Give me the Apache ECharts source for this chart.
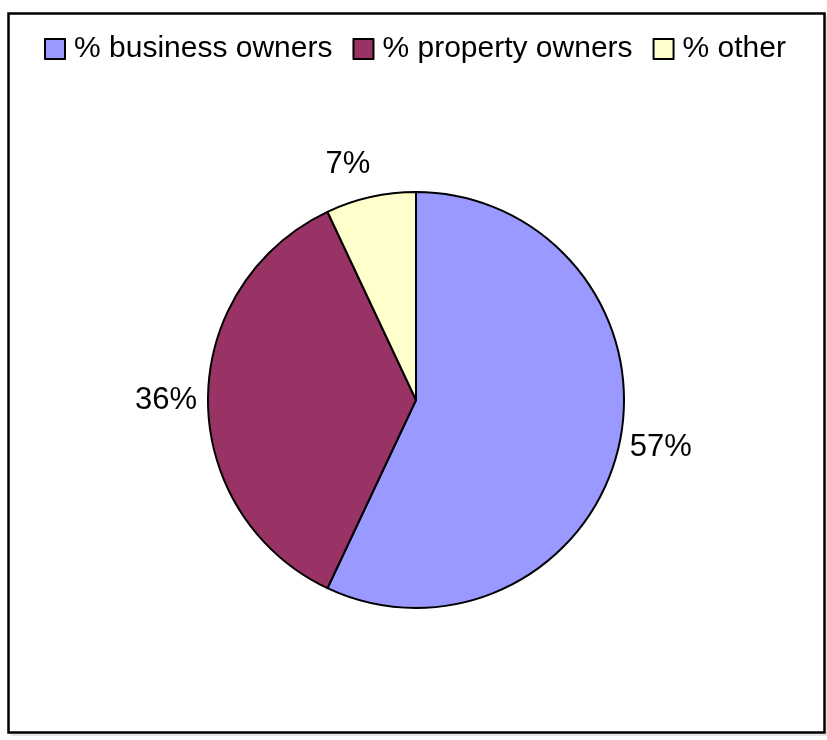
<!DOCTYPE html>
<html>
<head>
<meta charset="utf-8">
<style>
  html, body { margin: 0; padding: 0; background: #fff; }
  #chart { width: 827px; height: 740px; }
</style>
<script src="https://cdn.jsdelivr.net/npm/echarts@6/dist/echarts.min.js"></script>
</head>
<body>
<div id="chart"></div>
<script>
// Share of respondents by ownership group
const categories = ['% business owners', '% property owners', '% other'];
const shares = [57, 36, 7];
const colors = ['#9999FF', '#993366', '#FFFFCC'];

const FONT = '"Liberation Sans", Arial, sans-serif';

const pieData = categories.map((name, i) => {
  const item = { name: name, value: shares[i], itemStyle: { color: colors[i] } };
  if (i === 0) {
    // nudge the right-hand label slightly lower
    item.label = { padding: [6, 0, 0, 0] };
  }
  if (i === 2) {
    // the narrow slice near the top sits its label a little further out
    item.labelLine = { length: 33 };
    item.label = { distanceToLabelLine: -7 };
  }
  return item;
});

const chart = echarts.init(document.getElementById('chart'), null, { renderer: 'canvas' });

chart.setOption({
  animation: false,
  backgroundColor: '#fff',
  graphic: [
    {
      type: 'rect',
      shape: { x: 8.5, y: 13.5, width: 816, height: 719 },
      style: { fill: 'none', stroke: '#000', lineWidth: 2.5 },
      z: 0
    },
    {
      type: 'polyline',
      shape: { points: [[827, 16], [827, 735], [11, 735]] },
      style: { fill: 'none', stroke: '#c8c8c8', lineWidth: 1 },
      z: 0
    }
  ],
  legend: {
    data: categories,
    left: 39,
    top: 29,
    orient: 'horizontal',
    icon: 'rect',
    itemWidth: 20,
    itemHeight: 20,
    itemGap: 20,
    itemStyle: { borderColor: '#000', borderWidth: 2 },
    textStyle: {
      fontFamily: FONT,
      fontSize: 30,
      color: '#000',
      padding: [0, 0, 0, 4]
    }
  },
  series: [
    {
      type: 'pie',
      center: [416, 400],
      radius: 208,
      startAngle: 90,
      clockwise: true,
      avoidLabelOverlap: false,
      itemStyle: { borderColor: '#000', borderWidth: 2 },
      label: {
        show: true,
        position: 'outside',
        formatter: '{c}%',
        fontFamily: FONT,
        fontSize: 31,
        color: '#000',
        distanceToLabelLine: 0
      },
      labelLine: { show: false, length: 11, length2: 0 },
      emphasis: { disabled: true },
      data: pieData
    }
  ]
});
</script>
</body>
</html>
